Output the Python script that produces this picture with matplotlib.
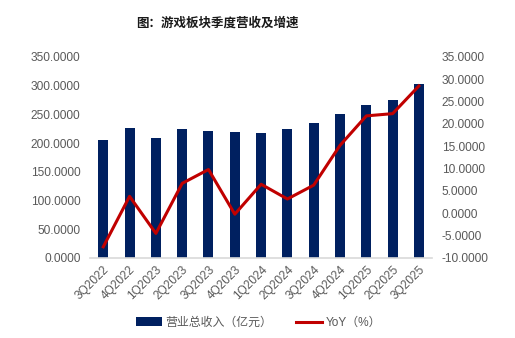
import matplotlib
matplotlib.use('Agg')
import matplotlib.pyplot as plt
from matplotlib.ticker import FormatStrFormatter

plt.rcParams['font.family'] = ['Liberation Sans', 'Noto Sans CJK SC']

quarters = ['3Q2022', '4Q2022', '1Q2023', '2Q2023', '3Q2023', '4Q2023', '1Q2024',
            '2Q2024', '3Q2024', '4Q2024', '1Q2025', '2Q2025', '3Q2025']
revenue = [206.0, 225.8, 208.5, 224.0, 221.8, 219.5, 218.4,
           225.3, 235.0, 251.0, 265.7, 275.6, 302.0]
yoy = [-7.5, 3.8, -4.5, 6.7, 9.8, -0.2, 6.5, 3.2, 6.3, 15.2, 21.8, 22.3, 28.5]

navy = '#002060'
red = '#C00000'
grey = '#595959'

fig = plt.figure(figsize=(5.15, 3.38), dpi=100)
ax = fig.add_axes([0.175, 0.2367, 0.664, 0.595])
ax2 = ax.twinx()

x = range(len(quarters))
bars = ax.bar(x, revenue, width=0.38, color=navy, label='营业总收入（亿元）', zorder=2)
line, = ax2.plot(x, yoy, color=red, linewidth=2.2, label='YoY（%）', zorder=3)

ax.set_xlim(-0.5, len(quarters) - 0.5)
ax.set_ylim(0, 350)
ax.set_yticks(range(0, 351, 50))
ax2.set_ylim(-10, 35)
ax2.set_yticks(range(-10, 36, 5))
ax.yaxis.set_major_formatter(FormatStrFormatter('%.4f'))
ax2.yaxis.set_major_formatter(FormatStrFormatter('%.4f'))

ax.set_xticks(list(x))
ax.set_xticklabels(quarters, rotation=45, ha='right', rotation_mode='anchor')

for a in (ax, ax2):
    for s in a.spines.values():
        s.set_visible(False)
    a.tick_params(length=0, labelsize=8.6, colors=grey)
ax.spines['bottom'].set_visible(True)
ax.spines['bottom'].set_color('#D9D9D9')
ax.spines['bottom'].set_linewidth(1.2)
ax.tick_params(axis='y', pad=7)
ax2.tick_params(axis='y', pad=7)
ax.tick_params(axis='x', pad=4)

fig.text(0.423, 0.932, '图：游戏板块季度营收及增速', ha='center', va='center',
         fontsize=9, fontweight='bold', color='#1a1a1a',
         family=['Noto Sans CJK SC'])

fig.legend(handles=[bars, line], loc='center', bbox_to_anchor=(0.502, 0.045),
           ncol=2, frameon=False, fontsize=8.6, labelcolor=grey,
           handlelength=2.2, handleheight=0.7, columnspacing=2.0, handletextpad=0.3)

fig.savefig('out.png', dpi=100)
